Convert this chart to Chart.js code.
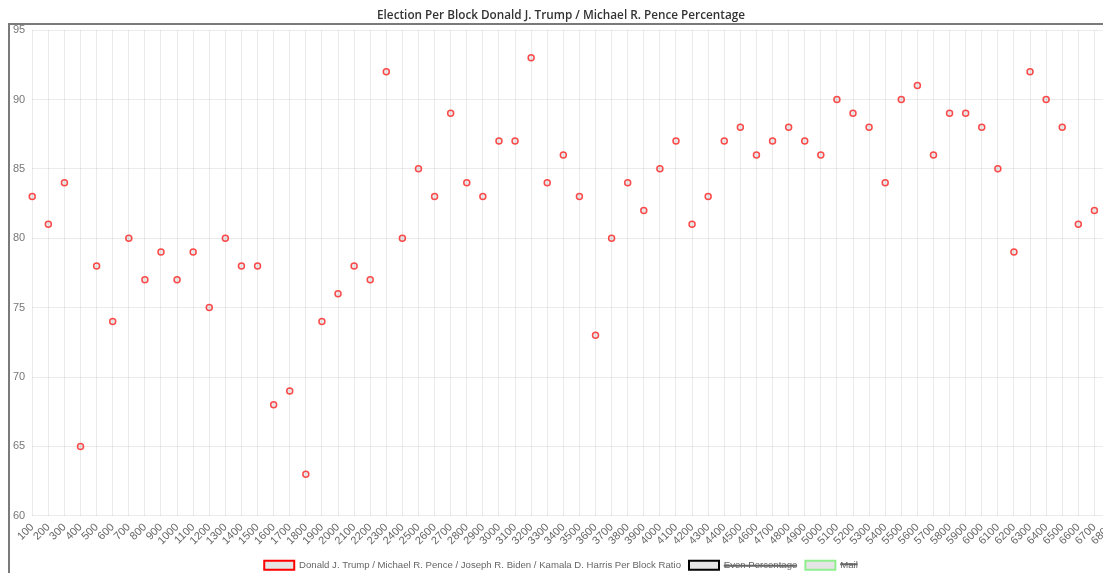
<!DOCTYPE html>
<html>
<head>
<meta charset="utf-8">
<script src="https://cdn.jsdelivr.net/npm/chart.js@4.4.1/dist/chart.umd.min.js"></script>
<style>
  html, body { margin: 0; padding: 0; background: #fff; overflow: hidden; }
  #wrap { position: absolute; left: 2px; top: 0; width: 1114px; height: 580px; }
</style>
</head>
<body>
<div id="wrap"><canvas id="c"></canvas></div>
<script>
const titleText = "Election Per Block Donald J. Trump / Michael R. Pence Percentage";
const blocks = ["100","200","300","400","500","600","700","800","900","1000",
  "1100","1200","1300","1400","1500","1600","1700","1800","1900","2000",
  "2100","2200","2300","2400","2500","2600","2700","2800","2900","3000",
  "3100","3200","3300","3400","3500","3600","3700","3800","3900","4000",
  "4100","4200","4300","4400","4500","4600","4700","4800","4900","5000",
  "5100","5200","5300","5400","5500","5600","5700","5800","5900","6000",
  "6100","6200","6300","6400","6500","6600","6700","6800"];
const trumpPence = [83,81,84,65,78,74,80,77,79,77,
  79,75,80,78,78,68,69,63,74,76,
  78,77,92,80,85,83,89,84,83,87,
  87,93,84,86,83,73,80,84,82,85,
  87,81,83,87,88,86,87,88,87,86,
  90,89,88,84,90,91,86,89,89,88,
  85,79,92,90,88,81,82,null];
const evenPercentage = [];
const mail = [];
const yTicks = [60,65,70,75,80,85,90,95];

const boxBorder = {
  id: 'boxBorder',
  afterDraw(chart) {
    const ctx = chart.ctx;
    ctx.save();
    ctx.strokeStyle = '#7a7a7a';
    ctx.lineWidth = 2;
    ctx.beginPath();
    ctx.moveTo(7, chart.height);
    ctx.lineTo(7, 24);
    ctx.lineTo(chart.width, 24);
    ctx.stroke();
    ctx.restore();
  }
};

new Chart(document.getElementById('c'), {
  type: 'line',
  data: {
    labels: blocks,
    datasets: [
      {
        label: 'Donald J. Trump / Michael R. Pence / Joseph R. Biden / Kamala D. Harris Per Block Ratio',
        data: trumpPence,
        borderColor: 'rgb(255,0,0)',
        backgroundColor: 'rgba(0,0,0,0.1)',
        pointBorderColor: 'rgba(255,0,0,0.7)',
        pointBackgroundColor: 'rgba(0,0,0,0.08)',
        borderWidth: 2,
        pointRadius: 3,
        pointBorderWidth: 1.5,
        showLine: false
      },
      {
        label: 'Even Percentage',
        data: evenPercentage,
        borderColor: 'rgb(0,0,0)',
        backgroundColor: 'rgba(0,0,0,0.1)',
        borderWidth: 2,
        showLine: false,
        hidden: true
      },
      {
        label: 'Mail',
        data: mail,
        borderColor: 'rgb(144,238,144)',
        backgroundColor: 'rgba(0,0,0,0.1)',
        borderWidth: 2,
        showLine: false,
        hidden: true
      }
    ]
  },
  options: {
    responsive: true,
    maintainAspectRatio: false,
    animation: false,
    layout: { padding: { left: 4, right: 0, top: 0, bottom: 0 } },
    plugins: {
      title: {
        display: true,
        text: titleText,
        color: '#333',
        font: { family: 'Open Sans', size: 11.75, weight: '600' },
        padding: { top: 9, bottom: 7 }
      },
      legend: {
        position: 'bottom',
        labels: {
          boxWidth: 30,
          boxHeight: 9,
          padding: 8,
          color: '#666',
          font: { size: 9.6 }
        }
      },
      tooltip: { enabled: false }
    },
    scales: {
      x: {
        grid: { drawTicks: false, color: 'rgba(0,0,0,0.08)' },
        border: { display: false },
        afterFit(scale) { scale.paddingRight = 0; },
        ticks: { minRotation: 45, maxRotation: 45, autoSkip: false, padding: 5, color: '#666', font: { size: 11 } }
      },
      y: {
        min: yTicks[0],
        max: yTicks[yTicks.length - 1],
        grid: { drawTicks: false, color: 'rgba(0,0,0,0.08)' },
        border: { display: false },
        afterBuildTicks(scale) { scale.ticks = yTicks.map(v => ({ value: v })); },
        ticks: { padding: 7, color: '#777', font: { size: 11 } }
      }
    }
  },
  plugins: [boxBorder]
});
</script>
</body>
</html>
